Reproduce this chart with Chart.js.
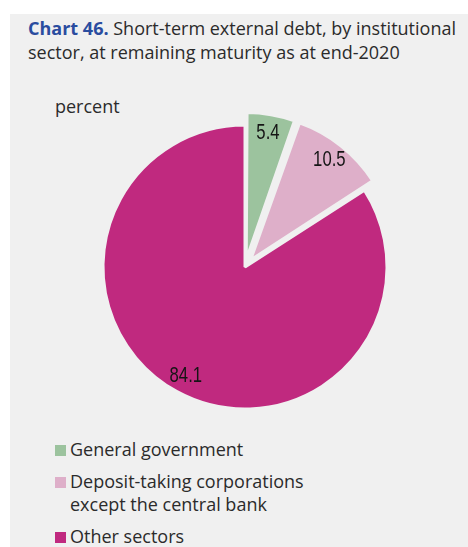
<!DOCTYPE html>
<html>
<head>
<meta charset="utf-8">
<script src="https://cdn.jsdelivr.net/npm/chart.js@4"></script>
<style>
  html, body { margin: 0; padding: 0; background: #fff; }
  body { width: 468px; height: 547px; position: relative; overflow: hidden;
         font-family: "Open Sans", sans-serif; color: #2b2b2b; }
  #panel { position: absolute; left: 10px; top: 14px; right: 0; bottom: 0; background: #f0f0f0; }
  #title { position: absolute; left: 28px; top: 16px; width: 440px; font-size: 18px; line-height: 24px; white-space: nowrap; }
  #title b { color: #2a4c9f; font-weight: 700; }
  #unit { position: absolute; left: 55px; top: 94px; font-size: 18px; }
  #chartBox { position: absolute; left: 85px; top: 107px; width: 320px; height: 320px; }
  #legend { position: absolute; left: 55px; top: 438px; font-size: 18px; line-height: 23px; }
  .item { display: flex; align-items: flex-start; margin-bottom: 9px; }
  .sw { width: 11px; height: 11px; margin: 7px 4px 0 0; flex: none; }
</style>
</head>
<body>
<div id="panel"></div>
<div id="title"><b>Chart 46.</b> Short-term external debt, by institutional<br>sector, at remaining maturity as at end-2020</div>
<div id="unit">percent</div>
<div id="chartBox"><canvas id="pieChart" width="320" height="320"></canvas></div>
<div id="legend"></div>
<script>
// data
const categories = ['General government', ['Deposit-taking corporations', 'except the central bank'], 'Other sectors'];
const shares = [5.4, 10.5, 84.1];
const colors = ['#9cc39e', '#deafc9', '#c0297f'];

// value labels inside the slices (narrow digits)
const sliceLabels = {
  id: 'sliceLabels',
  afterDatasetsDraw(chart) {
    const ctx = chart.ctx;
    const meta = chart.getDatasetMeta(0);
    meta.data.forEach((arc, i) => {
      const p = arc.getProps(['x', 'y', 'startAngle', 'endAngle', 'outerRadius', 'circumference']);
      const mid = (p.startAngle + p.endAngle) / 2;
      const off = (arc.options.offset || 0) / 4;
      const shift = off * (2 - Math.sin(Math.min(Math.PI, p.circumference)));
      const r = p.outerRadius * 0.87 + shift;
      ctx.save();
      ctx.translate(p.x + Math.cos(mid) * r, p.y + Math.sin(mid) * r);
      ctx.scale(0.76, 1);
      ctx.font = '22px "Liberation Sans", sans-serif';
      ctx.fillStyle = '#151515';
      ctx.textAlign = 'center';
      ctx.textBaseline = 'middle';
      ctx.fillText(shares[i].toFixed(1), 0, 0);
      ctx.restore();
    });
  }
};

const ctx = document.getElementById('pieChart').getContext('2d');
new Chart(ctx, {
  type: 'pie',
  data: {
    labels: categories,
    datasets: [{
      data: shares,
      backgroundColor: colors,
      borderColor: '#f0f0f0',
      borderWidth: 3,
      offset: [30, 36, 0]
    }]
  },
  options: {
    responsive: false,
    animation: false,
    radius: 142,
    layout: { padding: 0 },
    plugins: {
      legend: { display: false },
      tooltip: { enabled: false }
    }
  },
  plugins: [sliceLabels]
});

// legend
const legend = document.getElementById('legend');
categories.forEach((c, i) => {
  const item = document.createElement('div');
  item.className = 'item';
  const sw = document.createElement('span');
  sw.className = 'sw';
  sw.style.background = colors[i];
  const txt = document.createElement('span');
  txt.innerHTML = Array.isArray(c) ? c.join('<br>') : c;
  item.appendChild(sw);
  item.appendChild(txt);
  legend.appendChild(item);
});
</script>
</body>
</html>
